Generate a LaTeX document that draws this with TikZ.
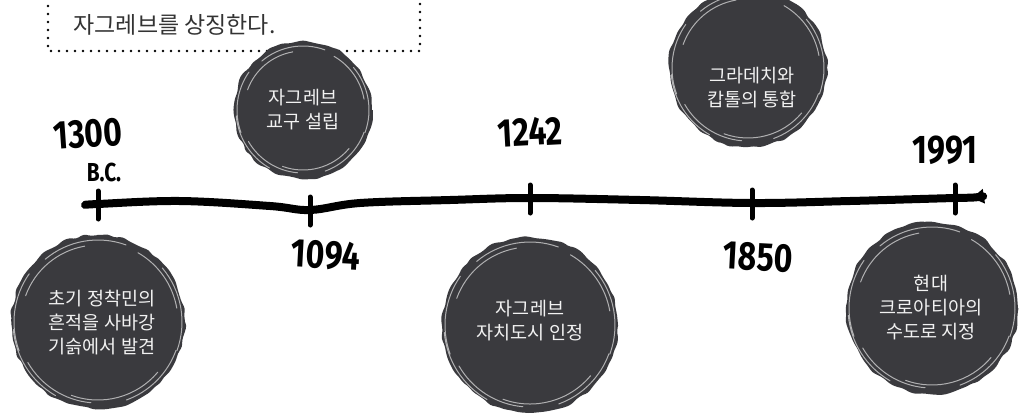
\documentclass[tikz,border=0pt]{standalone}
\usepackage{fontspec}
\newfontfamily\kr{Noto Sans CJK KR}
\newfontfamily\hand{Fira Sans}
\usetikzlibrary{decorations.pathmorphing,arrows.meta,calc}
\definecolor{blobc}{HTML}{3A3A3E}
\definecolor{topc}{HTML}{333333}
\definecolor{txtc}{HTML}{F2F2F2}
\tikzset{
  blob/.style={circle, fill=blobc, inner sep=0pt, decorate,
    decoration={random steps, segment length=7pt, amplitude=1.6pt}, rounded corners=3pt},
  btext/.style={text=txtc, align=center, font=\kr\fontsize{18.5}{24}\selectfont},
  year/.style={font=\hand\bfseries\fontsize{40}{40}\selectfont, text=black},
  tickmark/.style={line width=5pt, line cap=round, black},
  scr/.style={white, opacity=0.6, line width=1pt, line cap=round},
}
\newcommand{\narrow}[1]{\scalebox{0.8}[1]{#1}}
\newcommand{\scribbles}[2]{% center name, radius
  \foreach \a/\b/\d in {20/70/4, 95/150/6, 160/215/3, 230/290/5, 300/350/7, 40/110/9, 200/260/10, 320/380/3, 120/175/2}{
    \draw[scr] ($(#1.center)+(\a:#2-\d)$) arc[start angle=\a, end angle=\b, radius=#2-\d];
  }
}
\begin{document}
\begin{tikzpicture}[x=1pt,y=-1pt]
\pgfmathsetseed{7}
\useasboundingbox (0,0) rectangle (1027,413);
% dotted box
\coordinate (bx1) at (48,-10);
\coordinate (bx2) at (48,51);
\coordinate (bx3) at (420,51);
\coordinate (bx4) at (420,-10);
\draw[line width=2.6pt, line cap=round, dash pattern=on 0pt off 8pt, black] (bx1) -- (bx2) -- (bx3) -- (bx4);
\node[anchor=west, text=topc, font=\kr\fontsize{23}{26}\selectfont] (toptext) at (70,25) {자그레브를 상징한다.};
% blobs
\node[blob, minimum size=138pt] (c1) at (303,110) {};
\scribbles{c1}{69}
\node[btext] (c1t) at (303,110) {자그레브\\교구 설립};
\node[blob, minimum size=158pt] (c2) at (748,68) {};
\scribbles{c2}{79}
\node[btext] (c2t) at (752,88) {그라데치와\\캅톨의 통합};
\node[blob, minimum size=174pt] (c3) at (98,322) {};
\scribbles{c3}{87}
\node[btext] (c3t) at (102,323) {초기 정착민의\\흔적을 사바강\\기슭에서 발견};
\node[blob, minimum size=176pt] (c4) at (530,325) {};
\scribbles{c4}{88}
\node[btext] (c4t) at (530,321) {자그레브\\자치도시 인정};
\node[blob, minimum size=172pt] (c5) at (932,308) {};
\scribbles{c5}{86}
\node[btext] (c5t) at (931,308) {현대\\크로아티아의\\수도로 지정};
% timeline
\coordinate (t1) at (98,204);
\coordinate (t2) at (310,210);
\coordinate (t3) at (530,198);
\coordinate (t4) at (752,203);
\coordinate (t5) at (955,198);
\draw[line width=8pt, line cap=round, -{Triangle[length=12pt,width=14pt]}]
  plot[smooth, tension=0.6] coordinates {(85,205) (t1) (180,201) (270,206) (t2) (360,203) (450,200) (t3) (640,200) (t4) (850,201) (t5) (972,198)};
\foreach \t in {t1,t2,t3,t4,t5}{
  \draw[tickmark] ($(\t)+(0,-13)$) -- ($(\t)+(0,15)$);
}
% years
\node[year, rotate=4] (y1) at (88,134) {\narrow{1300}};
\node[year, font=\hand\bfseries\fontsize{26}{26}\selectfont] (y1b) at (104,172) {\narrow{B.C.}};
\node[year, rotate=-3] (y2) at (326,255) {\narrow{1094}};
\node[year, rotate=3] (y3) at (530,132) {\narrow{1242}};
\node[year, rotate=-3] (y4) at (758,257) {\narrow{1850}};
\node[year] (y5) at (945,150) {\narrow{1991}};
\end{tikzpicture}
\end{document}
